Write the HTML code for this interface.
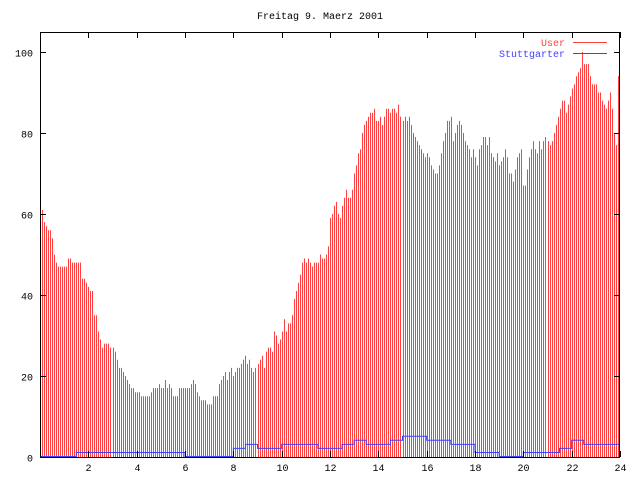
<!DOCTYPE html>
<html><head><meta charset="utf-8"><style>
body{margin:0;background:#fff}
svg{display:block;font-family:"Liberation Mono",monospace;font-size:10px}
</style></head><body>
<svg id="c" width="640" height="480"></svg>
<script>
const userValues=[
62,61,58,57,56,56,54,50,48,47,47,47,
47,47,49,49,48,48,48,48,48,44,44,43,
42,41,41,35,35,31,29,27,28,28,28,27,
27,26,24,22,22,21,20,19,18,17,17,16,
16,16,15,15,15,15,15,16,17,17,17,18,
17,17,19,17,18,17,15,15,15,17,17,17,
17,17,17,18,19,18,16,15,14,14,14,13,
13,13,15,15,15,18,19,20,21,19,21,22,
20,21,22,22,23,24,25,23,24,22,21,22,
23,24,25,22,26,27,27,26,31,30,28,29,
31,34,31,33,33,35,39,41,43,45,48,49,
48,49,48,47,48,48,48,50,49,49,50,52,
59,60,62,63,60,59,62,64,66,64,64,66,
70,72,75,76,80,82,83,84,85,85,86,83,
83,84,82,84,86,86,85,86,86,85,87,84,
83,84,83,84,82,80,79,78,77,76,75,74,
75,74,72,71,70,70,72,75,78,80,83,83,
84,78,80,82,83,82,80,78,77,76,74,76,
74,72,76,77,79,79,77,79,75,74,73,75,
72,73,74,76,74,70,70,68,71,74,75,76,
67,67,71,74,76,78,76,75,78,76,78,79,
78,77,78,80,82,84,86,88,88,85,87,89,
91,92,94,95,96,100,97,97,97,94,92,92,
92,90,90,88,87,86,88,90,86,80,77,94];
const stuttValues=[0,0,0,1,1,1,1,1,1,1,1,1,0,0,0,0,2,3,2,2,3,3,3,2,2,3,4,3,3,4,5,5,4,4,3,3,1,1,0,0,1,1,1,2,4,3,3,3];
const yTicks=[0,20,40,60,80,100];
const xTicks=[2,4,6,8,10,12,14,16,18,20,22,24];
const NS='http://www.w3.org/2000/svg';
const svg=document.getElementById('c');
const L=40,R=620,T=32,B=457;
const xs=h=>L+(R-L)*h/24;
const ys=v=>B-(B-52)*v/100;
function mk(t,a){const e=document.createElementNS(NS,t);for(const k in a)e.setAttribute(k,a[k]);svg.appendChild(e);return e;}
const title=mk('text',{x:320,y:19,'text-anchor':'middle',fill:'#000'});title.textContent='Freitag 9. Maerz 2001';


userValues.forEach((v,i)=>{const x=Math.round(xs(i*24/288))+0.5;
const b=mk('line',{x1:x,x2:x,y1:B,y2:ys(v),stroke:'#ff4040','stroke-width':1});

});
let d='';stuttValues.forEach((v,i)=>{const x0=xs(i*0.5),x1=xs((i+1)*0.5),y=ys(v)-0.5;d+=(i?'L':'M')+x0+','+y+'L'+x1+','+y;});
const sl=mk('path',{d:d,fill:'none',stroke:'#4040ff','stroke-width':1});


const fr=mk('rect',{x:L+0.5,y:T+0.5,width:R-L-1,height:B-T,fill:'none',stroke:'#000'});


yTicks.forEach(v=>{const y=Math.round(ys(v))+0.5;
mk('line',{x1:L,x2:L+6,y1:y,y2:y,stroke:'#000'});mk('line',{x1:R-6,x2:R,y1:y,y2:y,stroke:'#000'});
const t=mk('text',{x:33,y:y+4,'text-anchor':'end'});t.textContent=v;

});
xTicks.forEach(h=>{const x=Math.round(xs(h))+0.5;
mk('line',{x1:x,x2:x,y1:B,y2:B-6,stroke:'#000'});mk('line',{x1:x,x2:x,y1:T,y2:T+6,stroke:'#000'});
const t=mk('text',{x:x,y:471,'text-anchor':'middle'});t.textContent=h;

});
const l1=mk('text',{x:565,y:46,'text-anchor':'end',fill:'#ff4040'});l1.textContent='User';


mk('line',{x1:573,x2:607,y1:42.5,y2:42.5,stroke:'#ff4040'});
const l2=mk('text',{x:565,y:57,'text-anchor':'end',fill:'#4040ff'});l2.textContent='Stuttgarter';


mk('line',{x1:573,x2:607,y1:53.5,y2:53.5,stroke:'#4040ff'});
</script>
</body></html>
